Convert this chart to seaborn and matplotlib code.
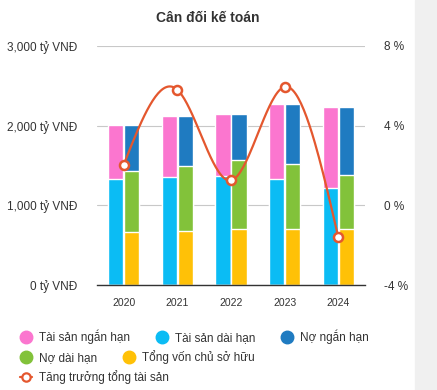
import numpy as np
import pandas as pd
import seaborn as sns
import matplotlib.pyplot as plt
from matplotlib.lines import Line2D
from matplotlib.patches import Rectangle

years = ["2020", "2021", "2022", "2023", "2024"]
# ty VND
tai_san_ngan_han = [687, 771, 779, 946, 1016]
tai_san_dai_han = [1325, 1354, 1367, 1325, 1221]
no_ngan_han = [583, 633, 571, 746, 862]
no_dai_han = [763, 813, 871, 825, 675]
von_chu_so_huu = [666, 679, 704, 700, 700]
# %
tang_truong = [2.05, 5.8, 1.25, 5.95, -1.58]

c_pink = "#fb76cf"
c_cyan = "#0bbcf4"
c_blue = "#1f7bc1"
c_green = "#82c23a"
c_yellow = "#ffc107"
c_line = "#e4572e"

sns.set_theme(style="white")
plt.rcParams["font.family"] = ["Liberation Sans", "DejaVu Sans"]

fig = plt.figure(figsize=(4.37, 3.90), dpi=100)
fig.patches.append(Rectangle((415 / 437, 0), 22 / 437, 1, transform=fig.transFigure,
                             color="#f0f0f0", zorder=0))
ax = fig.add_axes([97 / 437, 1 - 285 / 390, 268 / 437, 239 / 390])

# stacked by drawing cumulative layers from top down
ts_total = np.array(tai_san_ngan_han) + np.array(tai_san_dai_han)
nv_total = np.array(no_ngan_han) + np.array(no_dai_han) + np.array(von_chu_so_huu)
nv_mid = np.array(no_dai_han) + np.array(von_chu_so_huu)
layers = [
    (ts_total, nv_total, c_pink, c_blue),
    (np.array(tai_san_dai_han), nv_mid, c_cyan, c_green),
    (np.zeros(5), np.array(von_chu_so_huu), c_cyan, c_yellow),
]
for a_vals, b_vals, ca, cb in layers:
    df = pd.DataFrame({
        "year": years * 2,
        "side": ["A"] * 5 + ["B"] * 5,
        "value": list(a_vals) + list(b_vals),
    })
    sns.barplot(data=df, x="year", y="value", hue="side", hue_order=["A", "B"],
                palette={"A": ca, "B": cb}, width=0.6, gap=0.06, saturation=1,
                legend=False, ax=ax, zorder=2)

ax.set_ylim(0, 3000)
ax.set_xlim(-0.5, 4.5)
ax.set_yticks([0, 1000, 2000, 3000])
ax.set_yticklabels([f"{v:,} tỷ VNĐ" for v in [0, 1000, 2000, 3000]])
ax.grid(axis="y", color="#c8c8c8", linewidth=0.8, zorder=0)
ax.set_axisbelow(True)
ax.set_xlabel("")
ax.set_ylabel("")
for s in ["top", "right", "left"]:
    ax.spines[s].set_visible(False)
ax.spines["bottom"].set_color("#333333")
ax.spines["bottom"].set_linewidth(1)
ax.tick_params(axis="y", length=0, pad=14, labelsize=8.5, labelcolor="#333333")
ax.tick_params(axis="x", length=0, pad=9, labelsize=7.5, labelcolor="#333333")

ax2 = ax.twinx()
ax2.set_ylim(-4, 8)
ax2.set_yticks([-4, 0, 4, 8])
ax2.set_yticklabels([f"{v} %" for v in [-4, 0, 4, 8]])
ax2.tick_params(axis="y", length=0, pad=14, labelsize=8.5, labelcolor="#333333")
for s in ax2.spines.values():
    s.set_visible(False)

# natural cubic spline through the growth points for the smooth line
xs = np.arange(len(years), dtype=float)
ys = np.array(tang_truong)
n = len(xs)
A = np.zeros((n, n))
r = np.zeros(n)
A[0, 0] = A[-1, -1] = 1
for i in range(1, n - 1):
    A[i, i - 1], A[i, i], A[i, i + 1] = 1, 4, 1
    r[i] = 6 * (ys[i + 1] - 2 * ys[i] + ys[i - 1])
M = np.linalg.solve(A, r)
xf, yf = [], []
for i in range(n - 1):
    t = np.linspace(0, 1, 40)
    y_seg = ((1 - t) * ys[i] + t * ys[i + 1]
             + ((1 - t) ** 3 - (1 - t)) * M[i] / 6 + (t ** 3 - t) * M[i + 1] / 6)
    xf.extend(xs[i] + t)
    yf.extend(y_seg)
sns.lineplot(x=xf, y=yf, color=c_line, linewidth=1.6, ax=ax2, sort=False)
ax2.plot(xs, ys, linestyle="none", marker="o", markersize=6.5, markerfacecolor="white",
         markeredgecolor=c_line, markeredgewidth=1.8, zorder=5)
ax2.set_xlim(-0.5, 4.5)

fig.text(208 / 437, 1 - 18 / 390, "Cân đối kế toán", ha="center", va="center",
         fontsize=10, fontweight="bold", color="#333333")

def dot(c):
    return Line2D([], [], linestyle="none", marker="o", markersize=9,
                  markerfacecolor=c, markeredgecolor=c)

rows = [
    ([dot(c_pink), dot(c_cyan), dot(c_blue)],
     ["Tài sản ngắn hạn", "Tài sản dài hạn", "Nợ ngắn hạn"], 337),
    ([dot(c_green), dot(c_yellow)], ["Nợ dài hạn", "Tổng vốn chủ sở hữu"], 357),
    ([Line2D([], [], color=c_line, linewidth=1.6, marker="o", markersize=6,
             markerfacecolor="white", markeredgecolor=c_line, markeredgewidth=1.6)],
     ["Tăng trưởng tổng tài sản"], 377),
]
for handles, labels, ypix in rows:
    fig.legend(handles, labels, loc="center left", bbox_to_anchor=(20 / 437, 1 - ypix / 390),
               ncol=len(handles), frameon=False, fontsize=8.5, handlelength=1.0,
               handletextpad=0.6, columnspacing=2.2, borderpad=0, borderaxespad=0,
               labelcolor="#333333")

fig.savefig("out.png", dpi=100, facecolor="white")
